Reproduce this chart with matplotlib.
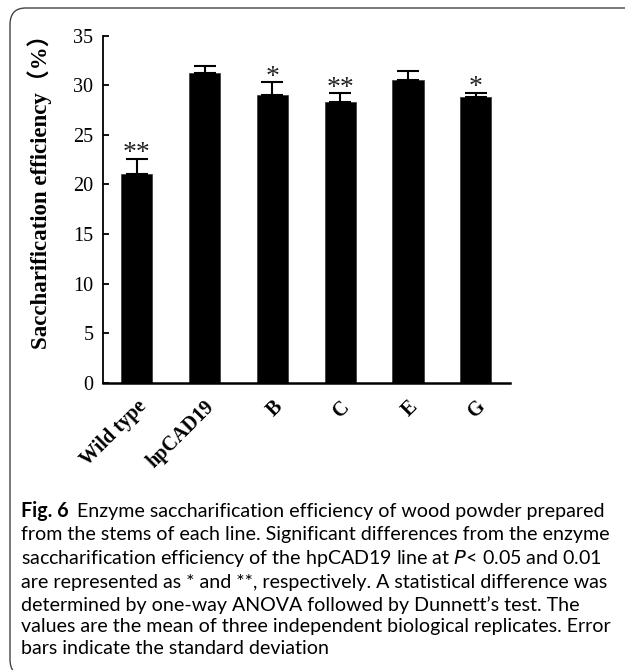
import numpy as np
import matplotlib.pyplot as plt
from matplotlib.patches import FancyBboxPatch

# data
lines = ["Wild type", "hpCAD19", "B", "C", "E", "G"]
efficiency = [21.1, 31.2, 29.0, 28.3, 30.5, 28.8]
sd = [1.5, 0.7, 1.3, 0.9, 0.9, 0.45]
marks = ["**", "", "*", "**", "", "*"]

W, H = 625, 670
fig = plt.figure(figsize=(W / 100, H / 100), dpi=100)

# rounded frame round the figure + caption (runs off the right edge)
frame = FancyBboxPatch((10 / W, 1 - 676 / H), 700 / W, 668 / H,
                       boxstyle="round,pad=0,rounding_size=0.025",
                       transform=fig.transFigure, fill=False,
                       edgecolor="#444444", linewidth=1.0)
fig.patches.append(frame)

ax = fig.add_axes([103 / W, 1 - 382.7 / H, 406.6 / W, 347 / H])
x = np.arange(len(lines))
ax.bar(x, efficiency, width=0.46, color="black", edgecolor="#333333", linewidth=0.5,
       yerr=[np.zeros(len(sd)), sd], capsize=8, ecolor="black",
       error_kw=dict(elinewidth=1.5, capthick=1.5))

for xi, v, s, m in zip(x, efficiency, sd, marks):
    if m:
        ax.text(xi, v + s + 0.5, m, ha="center", va="center",
                family="Liberation Serif", fontsize=20, color="#222222")

ax.set_xlim(-0.5, len(lines) - 0.5)
ax.set_ylim(0, 35)
ax.set_yticks(np.arange(0, 36, 5))
ax.set_xticks(x)
ax.set_xticklabels(lines, rotation=45, ha="right", va="top",
                   rotation_mode="anchor", family="Liberation Serif",
                   fontweight="bold", fontsize=14.5)
for t in ax.get_yticklabels():
    t.set_family("Liberation Serif")
    t.set_fontsize(14.5)
ax.tick_params(axis="y", direction="in", length=4, width=1.3, pad=7)
ax.tick_params(axis="x", length=0, pad=10)
for s in ["top", "right"]:
    ax.spines[s].set_visible(False)
ax.spines["left"].set_linewidth(1.3)
ax.spines["bottom"].set_linewidth(1.8)

ax.set_ylabel("Saccharification efficiency\uff08%\uff09",
              family=["Liberation Serif", "Noto Sans CJK SC"],
              fontweight="bold", fontsize=16.5)
ax.yaxis.set_label_coords(-0.125, 0.565)

# caption
cap_size = 14.1
head = fig.text(21 / W, 1 - 511 / H, "Fig. 6", fontsize=cap_size, va="center",
                family="Lato", fontweight="bold")
fig.canvas.draw()
hx = head.get_window_extent().x1 / W
fig.text(hx + 8 / W, 1 - 511 / H,
         "Enzyme saccharification efficiency of wood powder prepared",
         fontsize=cap_size, va="center", family="Lato")
cap = ("from the stems of each line. Significant differences from the enzyme\n"
       "saccharification efficiency of the hpCAD19 line at $P$< 0.05 and 0.01\n"
       "are represented as * and **, respectively. A statistical difference was\n"
       "determined by one-way ANOVA followed by Dunnett\u2019s test. The\n"
       "values are the mean of three independent biological replicates. Error\n"
       "bars indicate the standard deviation")
fig.text(21 / W, 1 - 526 / H, cap, fontsize=cap_size, va="top", family="Lato",
         linespacing=1.33)

fig.savefig("out.png", dpi=100)
